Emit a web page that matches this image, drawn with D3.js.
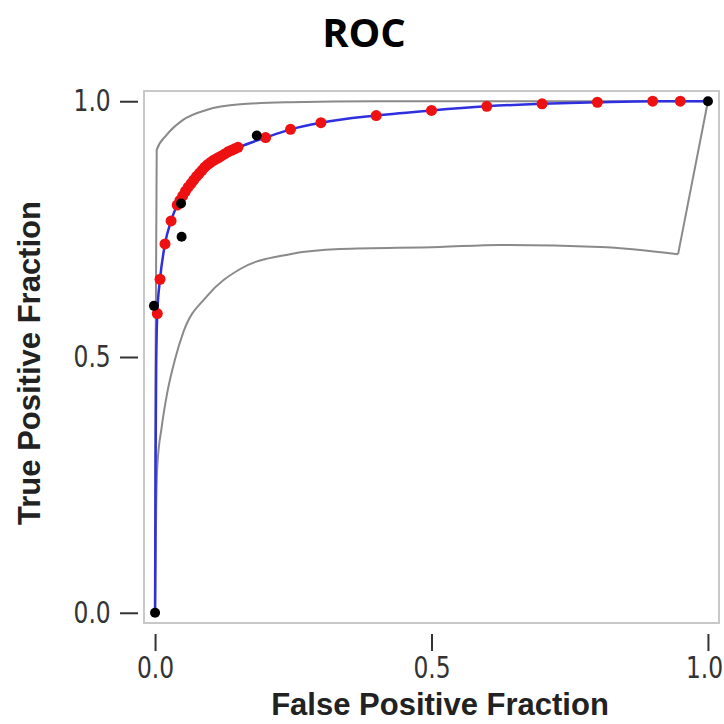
<!DOCTYPE html>
<html>
<head>
<meta charset="utf-8">
<script src="https://cdn.jsdelivr.net/npm/d3@7"></script>
<style>
  body { margin: 0; background: white; }
</style>
</head>
<body>
<div id="roc"></div>
<script>
// fitted curve (blue)
var fit_fpr = [0, 0.001, 0.002, 0.004, 0.009, 0.018, 0.029, 0.04, 0.05, 0.063, 0.087, 0.118, 0.154, 0.2, 0.245, 0.3, 0.4, 0.5, 0.6, 0.7, 0.8, 0.9, 0.95, 1];
var fit_tpr = [0, 0.3, 0.48, 0.585, 0.652, 0.721, 0.766, 0.797, 0.815, 0.836, 0.868, 0.892, 0.911, 0.929, 0.945, 0.958, 0.972, 0.982, 0.99, 0.995, 0.998, 1.0, 1.0, 1];

// confidence band (grey)
var upper_fpr = [0, 0.001, 0.003, 0.021, 0.05, 0.093, 0.154, 0.244, 0.4, 0.6, 0.8, 1];
var upper_tpr = [0, 0.5, 0.905, 0.934, 0.963, 0.983, 0.994, 0.998, 1.0, 1.0, 1.0, 1];
var lower_fpr = [0, 0.002, 0.004, 0.012, 0.022, 0.036, 0.051, 0.094, 0.154, 0.244, 0.335, 0.515, 0.624, 0.805, 0.946, 1];
var lower_tpr = [0, 0.2, 0.285, 0.363, 0.43, 0.495, 0.548, 0.619, 0.672, 0.701, 0.711, 0.715, 0.719, 0.715, 0.701, 1];

// operating points (red)
var red_fpr = [0.004, 0.009, 0.018, 0.029, 0.04, 0.045, 0.05, 0.055, 0.06, 0.065, 0.07, 0.075, 0.08, 0.085, 0.09, 0.095, 0.1, 0.105, 0.11, 0.115, 0.12, 0.126, 0.132, 0.138, 0.144, 0.15, 0.2, 0.245, 0.3, 0.4, 0.5, 0.6, 0.7, 0.8, 0.9, 0.95];
var red_tpr = [0.585, 0.652, 0.721, 0.766, 0.797, 0.806, 0.815, 0.824, 0.832, 0.839, 0.846, 0.853, 0.859, 0.865, 0.871, 0.876, 0.880, 0.884, 0.887, 0.890, 0.893, 0.897, 0.901, 0.904, 0.907, 0.910, 0.929, 0.945, 0.958, 0.972, 0.982, 0.990, 0.995, 0.998, 1.0, 1.0];

// empirical points (black)
var black_fpr = [0, -0.002, 0.047, 0.048, 0.184, 1];
var black_tpr = [0, 0.60, 0.80, 0.735, 0.933, 1];

var ticks = [0, 0.5, 1];

function pairs(xs, ys) {
    return xs.map(function(d, i) { return [d, ys[i]]; });
}

var svg = d3.select("#roc")
    .append("svg")
    .attr("width", 724)
    .attr("height", 724)

var x = d3.scaleLinear()
    .domain([-0.02, 1.02])
    .range([144, 719]);
var y = d3.scaleLinear()
    .domain([-0.02, 1.02])
    .range([623, 91]);

svg.append("text")
    .attr("x", 364)
    .attr("y", 47)
    .attr("text-anchor", "middle")
    .style("font-family", "'Open Sans', sans-serif")
    .style("font-weight", "bold")
    .style("font-size", "40px")
    .text("ROC");

// plot box
svg.append("rect")
    .attr("x", 144)
    .attr("y", 91)
    .attr("width", 575)
    .attr("height", 532)
    .attr("fill", "none")
    .attr("stroke", "#c8c8c8")
    .attr("stroke-width", 2)

var yAxis = svg.append("g")
    .attr("transform", "translate(138, 0)")
    .call(d3.axisLeft(y).tickValues(ticks).tickFormat(d3.format(".1f")).tickSize(18).tickPadding(17));
var xAxis = svg.append("g")
    .attr("transform", "translate(0, 634)")
    .call(d3.axisBottom(x).tickValues(ticks).tickFormat(d3.format(".1f")).tickSize(17).tickPadding(6));

// tall narrow tick labels
[yAxis, xAxis].forEach(function(a) {
    a.select(".domain").remove();
    a.selectAll("line").attr("stroke", "#333").attr("stroke-width", 2);
    a.selectAll("text")
        .attr("fill", "#333")
        .attr("transform", "scale(0.78, 1)")
        .style("font-family", "'DejaVu Sans', sans-serif")
        .style("font-size", "30px");
});
// keep the last x label inside the page
xAxis.selectAll("text").filter(function(d) { return d === 1; }).attr("dx", -5);

var line = d3.line()
    .x(function(d) { return x(d[0]); })
    .y(function(d) { return y(d[1]); })
    .curve(d3.curveMonotoneX);

svg.append("path")
    .datum(pairs(upper_fpr, upper_tpr))
    .attr("d", line)
    .attr("fill", "none")
    .attr("stroke", "#8a8a8a")
    .attr("stroke-width", 2)

// lower band: smooth part, then the straight jump to (1,1)
var lower = pairs(lower_fpr, lower_tpr);
svg.append("path")
    .datum(lower.slice(0, lower.length - 1))
    .attr("d", line)
    .attr("fill", "none")
    .attr("stroke", "#8a8a8a")
    .attr("stroke-width", 2)
svg.append("path")
    .datum(lower.slice(lower.length - 2))
    .attr("d", line)
    .attr("fill", "none")
    .attr("stroke", "#8a8a8a")
    .attr("stroke-width", 2)

svg.append("path")
    .datum(pairs(fit_fpr, fit_tpr))
    .attr("d", line)
    .attr("fill", "none")
    .attr("stroke", "#2f2fe0")
    .attr("stroke-width", 2.5)

svg.append("g")
    .selectAll("circle")
    .data(pairs(red_fpr, red_tpr))
    .join("circle")
    .attr("cx", function(d) { return x(d[0]); })
    .attr("cy", function(d) { return y(d[1]); })
    .attr("r", 5.5)
    .attr("fill", "#ee1111")

svg.append("g")
    .selectAll("circle")
    .data(pairs(black_fpr, black_tpr))
    .join("circle")
    .attr("cx", function(d) { return x(d[0]); })
    .attr("cy", function(d) { return y(d[1]); })
    .attr("r", 5)
    .attr("fill", "#000")

svg.append("text")
    .attr("x", 440)
    .attr("y", 715)
    .attr("text-anchor", "middle")
    .style("font-family", "'Liberation Sans', Arial, sans-serif")
    .style("font-weight", "bold")
    .style("font-size", "31px")
    .attr("fill", "#222")
    .text("False Positive Fraction");

svg.append("text")
    .attr("transform", "translate(40, 363) rotate(-90)")
    .attr("text-anchor", "middle")
    .style("font-family", "'Liberation Sans', Arial, sans-serif")
    .style("font-weight", "bold")
    .style("font-size", "31px")
    .attr("fill", "#222")
    .text("True Positive Fraction");
</script>
</body>
</html>
